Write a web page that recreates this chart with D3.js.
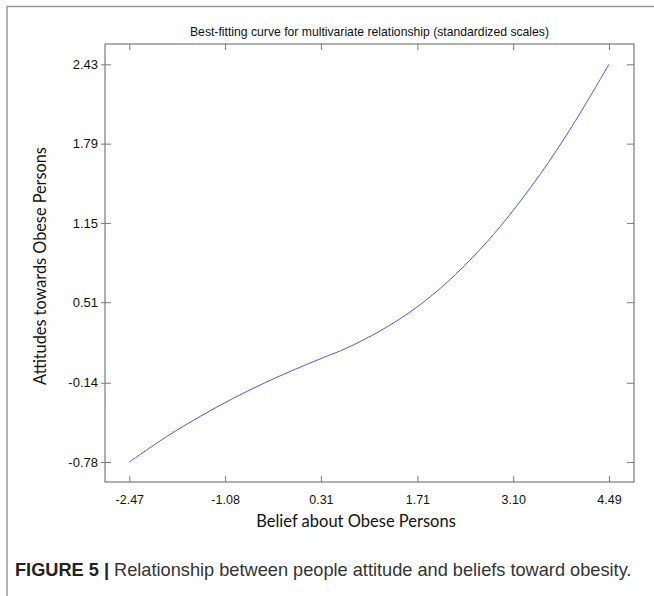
<!DOCTYPE html>
<html>
<head>
<meta charset="utf-8">
<script src="https://cdn.jsdelivr.net/npm/d3@7/dist/d3.min.js"></script>
<style>
  html, body { margin: 0; padding: 0; background: #fff; }
  svg { display: block; }
</style>
</head>
<body>
<svg id="chart" width="654" height="596"></svg>
<script>
// ---- data ----
const curveX = [-2.47, -1.93, -1.44, -0.96, -0.48, 0.01, 0.35, 0.68, 1.17, 1.65, 2.14, 2.62, 3.01, 3.49, 3.97, 4.49];
const curveY = [-0.78, -0.575, -0.411, -0.265, -0.134, -0.014, 0.064, 0.139, 0.279, 0.449, 0.67, 0.936, 1.188, 1.541, 1.944, 2.43];
const xTickValues = [-2.47, -1.08, 0.31, 1.71, 3.10, 4.49];
const xTickLabels = ["-2.47", "-1.08", "0.31", "1.71", "3.10", "4.49"];
const yTickValues = [2.43, 1.79, 1.15, 0.51, -0.14, -0.78];
const yTickLabels = ["2.43", "1.79", "1.15", "0.51", "-0.14", "-0.78"];
const titleText = "Best-fitting curve for multivariate relationship (standardized scales)";
const xLabel = "Belief about Obese Persons";
const yLabel = "Attitudes towards Obese Persons";
const captionBold = "FIGURE 5 |";
const captionText = " Relationship between people attitude and beliefs toward obesity.";

// ---- layout ----
const svg = d3.select("#chart");
const L = 105, R = 634, T = 44, B = 482;
const x = d3.scaleLinear().domain([-2.823, 4.853]).range([L, R]);
const y = d3.scaleLinear().domain([-0.941, 2.594]).range([B, T]);
const axisColor = "#7a7a7a";
const tickFont = "Liberation Sans, Arial, sans-serif";

// outer frame (left + top lines)
svg.append("line").attr("x1", 7).attr("y1", 6.5).attr("x2", 654).attr("y2", 6.5)
  .attr("stroke", "#999").attr("stroke-width", 1.5);
svg.append("line").attr("x1", 7).attr("y1", 6).attr("x2", 7).attr("y2", 596)
  .attr("stroke", "#999").attr("stroke-width", 1.5);

// title
svg.append("text").attr("x", (L + R) / 2).attr("y", 36)
  .attr("text-anchor", "middle").attr("font-family", tickFont)
  .attr("font-size", 12.2).attr("fill", "#111").text(titleText);

function styleAxis(g) {
  g.select(".domain").remove();
  g.selectAll(".tick line").attr("stroke", axisColor);
  g.selectAll(".tick text").attr("font-family", tickFont).attr("fill", "#111");
}

// bottom axis (inward ticks)
svg.append("g").attr("transform", `translate(0,${B})`)
  .call(d3.axisBottom(x).tickValues(xTickValues).tickFormat((d, i) => xTickLabels[i]).tickSize(-6).tickPadding(13))
  .call(styleAxis)
  .call(g => g.selectAll(".tick text").attr("font-size", 12.5));
// top axis (inward ticks, no labels)
svg.append("g").attr("transform", `translate(0,${T})`)
  .call(d3.axisTop(x).tickValues(xTickValues).tickFormat("").tickSize(-6))
  .call(styleAxis);
// left axis
svg.append("g").attr("transform", `translate(${L},0)`)
  .call(d3.axisLeft(y).tickValues(yTickValues).tickFormat((d, i) => yTickLabels[i]).tickSize(4).tickPadding(3))
  .call(styleAxis)
  .call(g => g.selectAll(".tick text").attr("font-size", 13));
svg.append("g").attr("transform", `translate(${L},0)`)
  .call(d3.axisLeft(y).tickValues(yTickValues).tickFormat("").tickSize(-6))
  .call(styleAxis);
// right axis
svg.append("g").attr("transform", `translate(${R},0)`)
  .call(d3.axisRight(y).tickValues(yTickValues).tickFormat("").tickSize(-7))
  .call(styleAxis);

// box
svg.append("rect").attr("x", L).attr("y", T).attr("width", R - L).attr("height", B - T)
  .attr("fill", "none").attr("stroke", axisColor).attr("stroke-width", 1.2);

// curve
const pts = curveX.map((v, i) => [v, curveY[i]]);
svg.append("path").datum(pts)
  .attr("fill", "none").attr("stroke", "#5555e0").attr("stroke-width", 1)
  .attr("d", d3.line().x(d => x(d[0])).y(d => y(d[1])).curve(d3.curveCatmullRom.alpha(0.5)));

// axis labels
svg.append("text").attr("x", 356).attr("y", 527)
  .attr("text-anchor", "middle").attr("font-family", "Lato, 'Open Sans', sans-serif")
  .attr("font-size", 16.5).attr("fill", "#111").text(xLabel);
svg.append("text").attr("transform", `translate(46,266) rotate(-90)`)
  .attr("text-anchor", "middle").attr("font-family", "Lato, 'Open Sans', sans-serif")
  .attr("font-size", 16.3).attr("fill", "#111").text(yLabel);

// caption
const cap = svg.append("text").attr("x", 15).attr("y", 576)
  .attr("font-family", tickFont).attr("font-size", 18.2).attr("fill", "#333");
cap.append("tspan").attr("font-weight", "bold").attr("fill", "#222").text(captionBold);
cap.append("tspan").text(captionText);
</script>
</body>
</html>
